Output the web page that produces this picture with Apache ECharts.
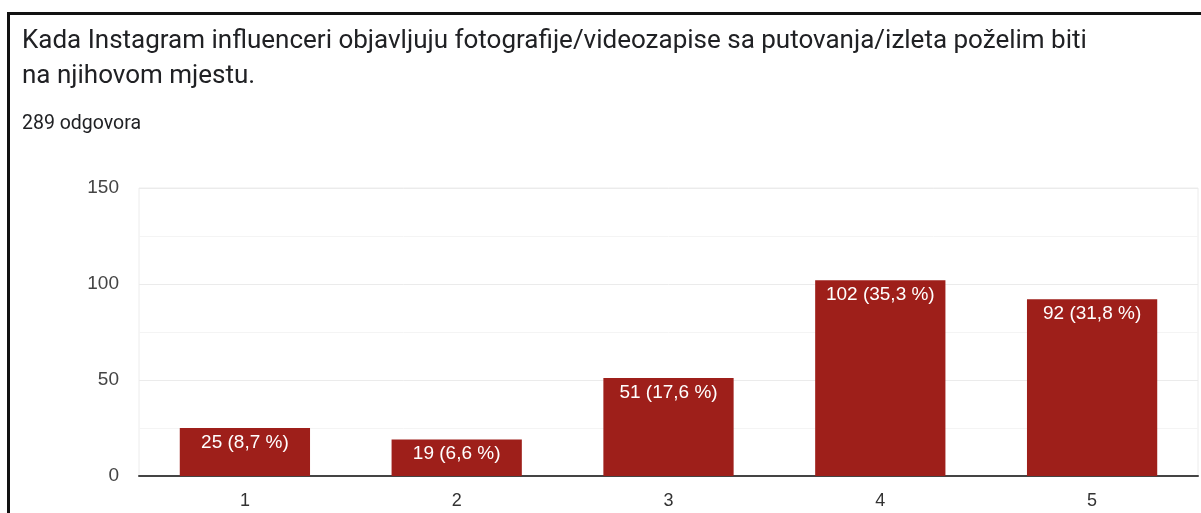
<!DOCTYPE html>
<html>
<head>
<meta charset="utf-8">
<script src="https://cdn.jsdelivr.net/npm/echarts@6/dist/echarts.min.js"></script>
<style>
  html, body { margin: 0; padding: 0; background: #fff; }
  #frame { position: absolute; left: 7px; top: 12px; width: 1300px; height: 600px;
           border-top: 3px solid #111; border-left: 3px solid #111; }
  #chart { position: absolute; left: 0; top: 0; width: 1201px; height: 513px; }
</style>
</head>
<body>
<div id="frame"></div>
<div id="chart"></div>
<script>
// podaci s grafikona
var categories = ['1', '2', '3', '4', '5'];
var counts = [25, 19, 51, 102, 92];
var percents = ['8,7', '6,6', '17,6', '35,3', '31,8'];
var yTicks = [0, 50, 100, 150];

var chart = echarts.init(document.getElementById('chart'));

var option = {
    animation: false,
    title: [
        {
            text: 'Kada Instagram influenceri objavljuju fotografije/videozapise sa putovanja/izleta poželim biti\nna njihovom mjestu.',
            left: 22,
            top: 24,
            padding: 0,
            textStyle: {
                fontFamily: 'Roboto',
                fontSize: 26,
                fontWeight: 'normal',
                color: '#202124',
                lineHeight: 35
            }
        },
        {
            text: '289 odgovora',
            left: 22,
            top: 114,
            padding: 0,
            textStyle: {
                fontFamily: 'Roboto',
                fontSize: 19.5,
                fontWeight: 'normal',
                color: '#202124'
            }
        }
    ],
    grid: {
        left: 139,
        right: 3,
        top: 188,
        bottom: 37,
        show: true,
        borderColor: '#ececec',
        borderWidth: 1
    },
    xAxis: {
        type: 'category',
        data: categories,
        axisTick: { show: false },
        axisLine: { lineStyle: { color: '#444', width: 2 } },
        axisLabel: {
            color: '#333',
            fontFamily: 'Arial',
            fontSize: 18,
            margin: 16
        }
    },
    yAxis: {
        type: 'value',
        min: 0,
        max: 150,
        interval: 50,
        axisLine: { show: false },
        axisTick: { show: false },
        axisLabel: {
            color: '#444',
            fontFamily: 'Arial',
            fontSize: 19,
            margin: 20,
            formatter: function (v) {
                return yTicks.indexOf(v) >= 0 ? v : '';
            }
        },
        splitLine: { lineStyle: { color: '#ebebeb', width: 1 } },
        minorTick: { show: false, splitNumber: 2 },
        minorSplitLine: { show: true, lineStyle: { color: '#f4f4f4', width: 1 } }
    },
    series: [
        {
            type: 'bar',
            data: counts,
            barWidth: '61.5%',
            itemStyle: { color: '#9e1f1a' },
            label: {
                show: true,
                position: 'insideTop',
                distance: 5,
                color: '#fff',
                fontFamily: 'Arial',
                fontSize: 19,
                formatter: function (p) {
                    return p.value + ' (' + percents[p.dataIndex] + ' %)';
                }
            }
        }
    ]
};

chart.setOption(option);
</script>
</body>
</html>
